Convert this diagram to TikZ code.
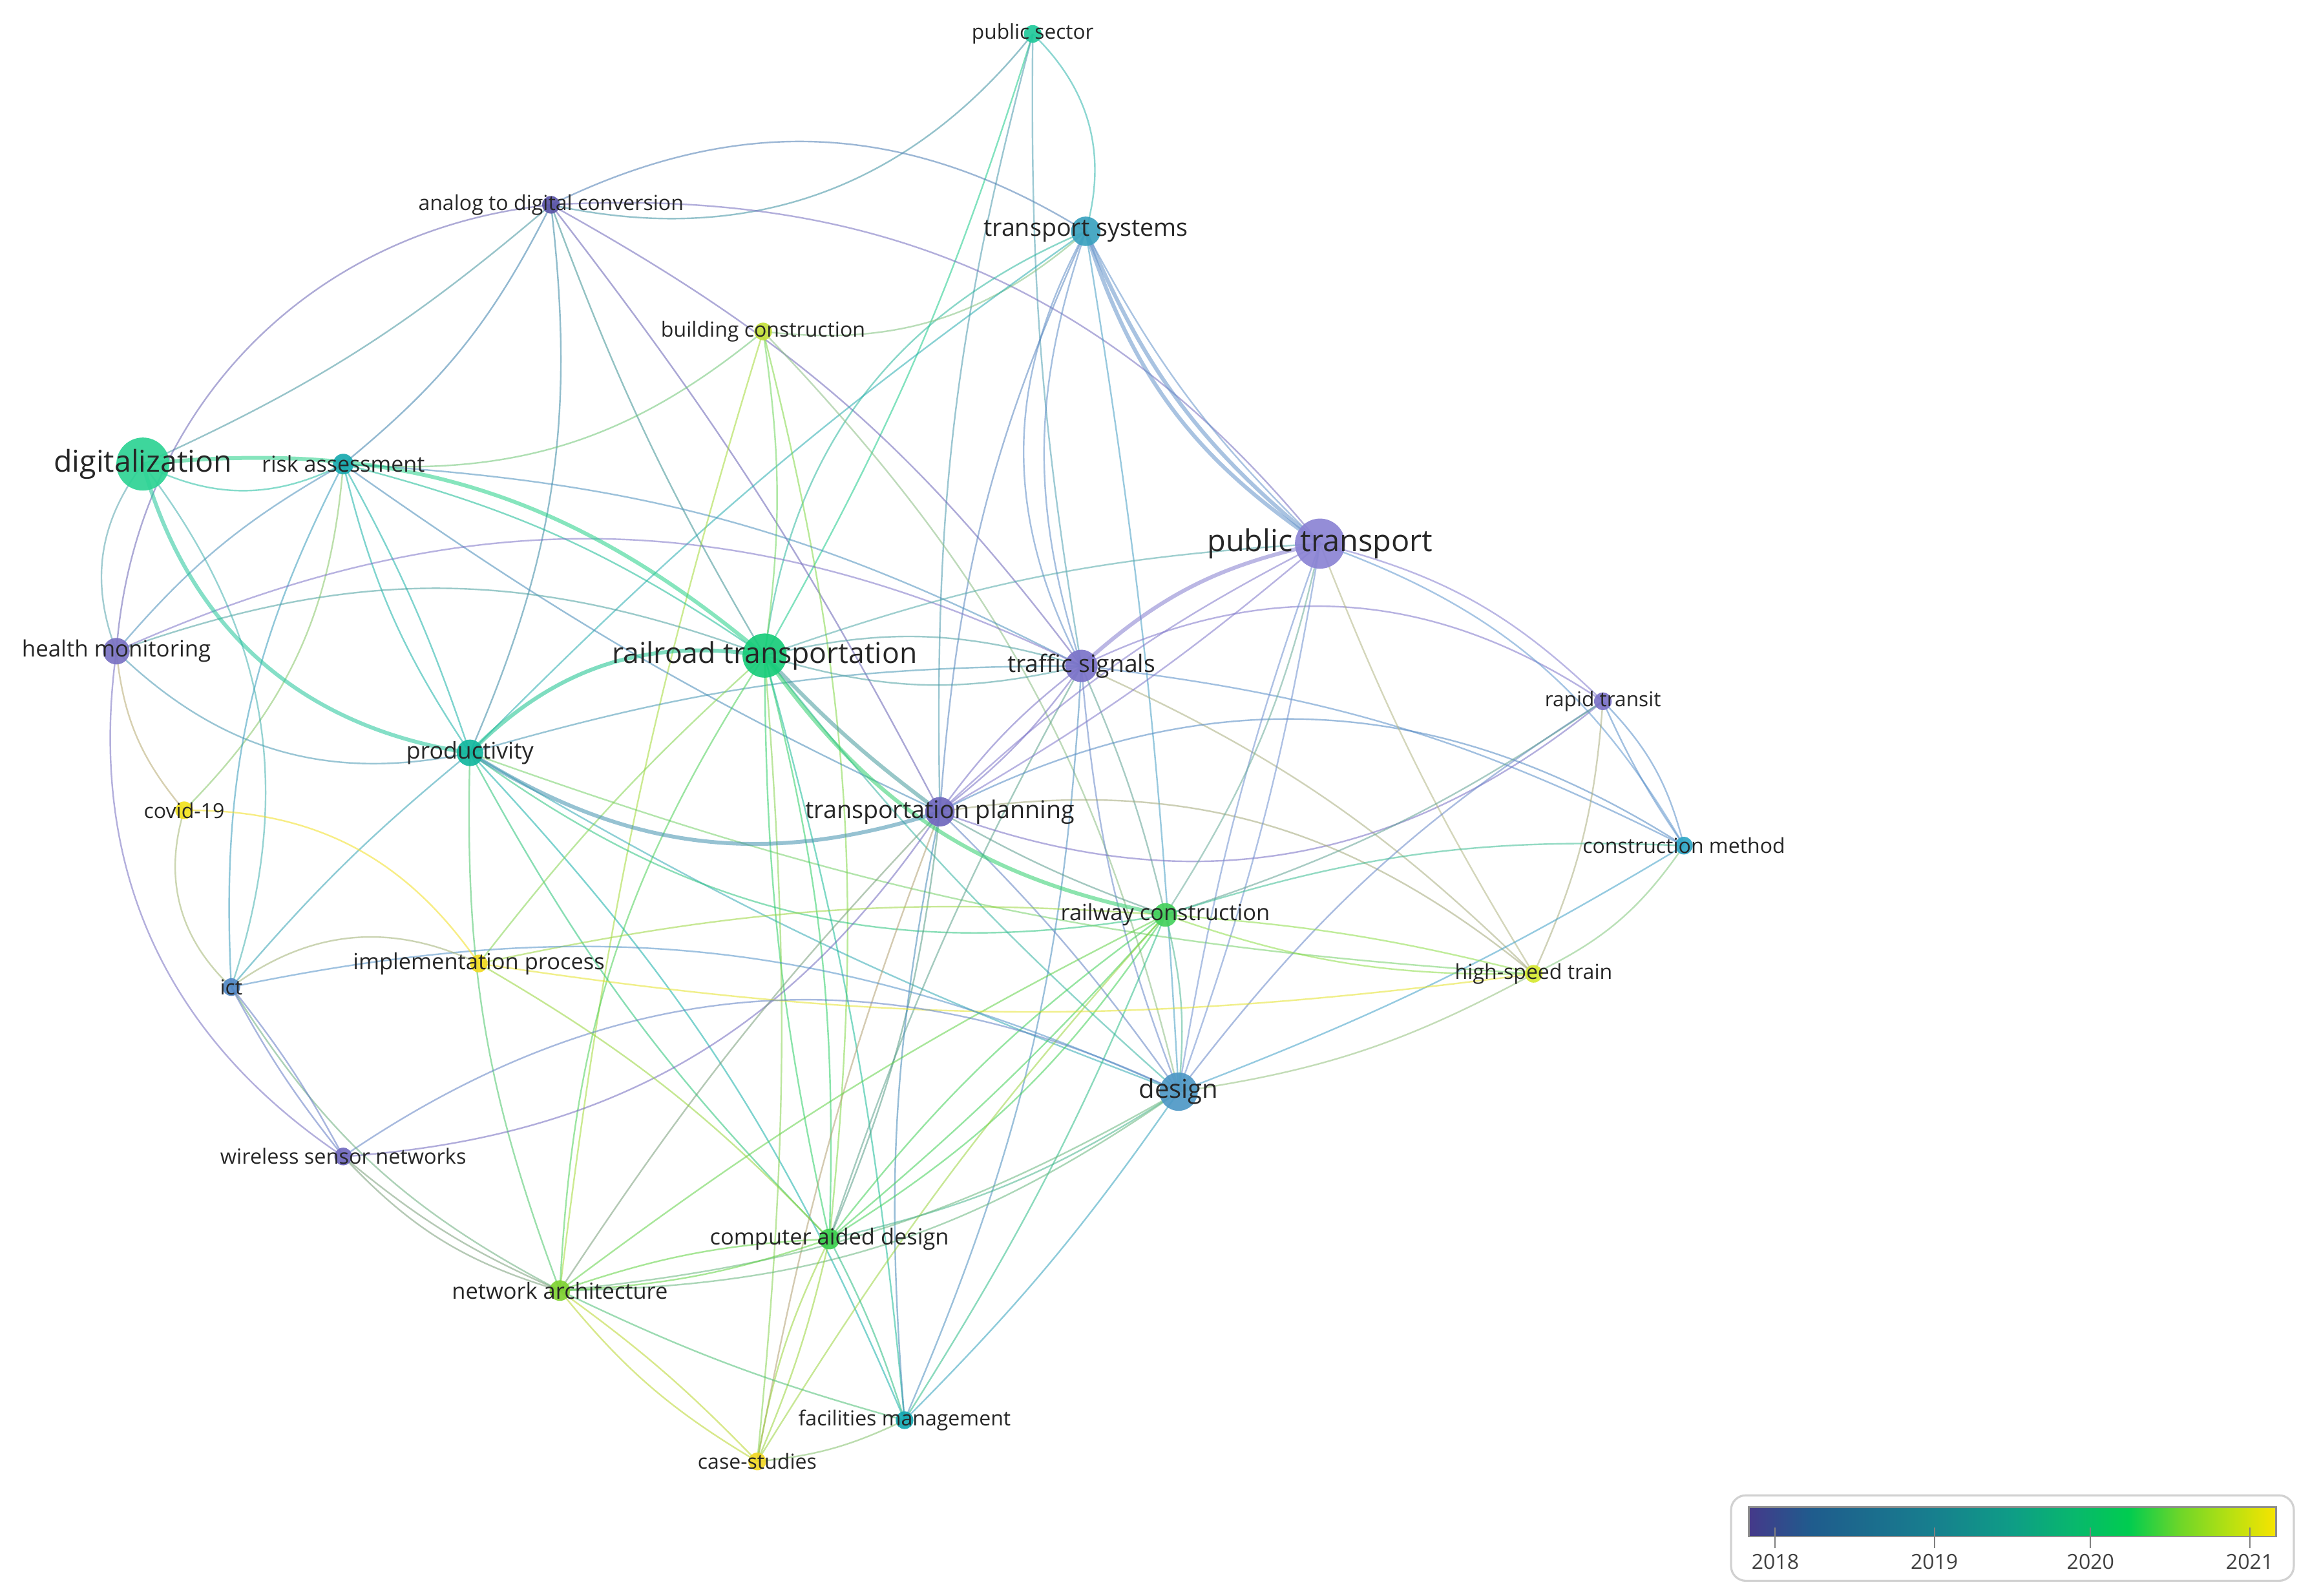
\documentclass[tikz,border=0pt]{standalone}
\usepackage{fontspec}
\setmainfont{Open Sans}
\usepackage{tikz}

% keyword colours (overlay year)
\definecolor{c-psec}{HTML}{20C99A}
\definecolor{c-adc}{HTML}{5B55A8}
\definecolor{c-tsys}{HTML}{3BA2BF}
\definecolor{c-bcon}{HTML}{C4E03C}
\definecolor{c-dig}{HTML}{2ED394}
\definecolor{c-risk}{HTML}{18A9AF}
\definecolor{c-ptr}{HTML}{8B83D4}
\definecolor{c-hmon}{HTML}{7A72C3}
\definecolor{c-rail}{HTML}{18CC7A}
\definecolor{c-tsig}{HTML}{7B73C9}
\definecolor{c-rapid}{HTML}{7C72C8}
\definecolor{c-prod}{HTML}{12B79E}
\definecolor{c-covid}{HTML}{F2E21E}
\definecolor{c-tplan}{HTML}{6F67BD}
\definecolor{c-cmeth}{HTML}{2FA6C6}
\definecolor{c-rcon}{HTML}{44D05C}
\definecolor{c-impl}{HTML}{F0DA22}
\definecolor{c-ict}{HTML}{5289C6}
\definecolor{c-hst}{HTML}{D6E832}
\definecolor{c-design}{HTML}{4E98C6}
\definecolor{c-wsn}{HTML}{7068BE}
\definecolor{c-cad}{HTML}{3CCF4E}
\definecolor{c-netarch}{HTML}{7FD232}
\definecolor{c-fm}{HTML}{14A8B2}
\definecolor{c-cases}{HTML}{F2D824}

\definecolor{y0}{HTML}{45398A}
\definecolor{y1}{HTML}{1F5C8D}
\definecolor{y2}{HTML}{177F8E}
\definecolor{y3}{HTML}{0E9D86}
\definecolor{y4}{HTML}{08B86C}
\definecolor{y5}{HTML}{00CC50}
\definecolor{y6}{HTML}{70D628}
\definecolor{y7}{HTML}{B5E012}
\definecolor{y8}{HTML}{F7E400}
\pgfdeclarehorizontalshading{yearbar}{100bp}{color(0bp)=(y0); color(25bp)=(y0);
  color(31bp)=(y1); color(42.5bp)=(y2); color(50bp)=(y3); color(56bp)=(y4);
  color(61bp)=(y5); color(66bp)=(y6); color(70.5bp)=(y7); color(75bp)=(y8); color(100bp)=(y8)}

\begin{document}
\begin{tikzpicture}[x=0.02cm, y=-0.02cm,
  lnk/.style 2 args={draw={c-#1!50!c-#2}, draw opacity=.55, line width=.6pt},
  thick lnk/.style 2 args={draw={c-#1!50!c-#2}, draw opacity=.55, line width=1.5pt},
  lbl/.style={text=black!85, inner sep=0pt, anchor=center}]
\useasboundingbox (0,0) rectangle (1568,1083);

% keyword positions
\coordinate (psec) at (701,23);
\coordinate (adc) at (374,139);
\coordinate (tsys) at (737,157);
\coordinate (bcon) at (518,225);
\coordinate (dig) at (97,315);
\coordinate (risk) at (233,315);
\coordinate (ptr) at (896,369);
\coordinate (hmon) at (79,442);
\coordinate (rail) at (519,445);
\coordinate (tsig) at (734,452);
\coordinate (rapid) at (1088,476);
\coordinate (prod) at (319,511);
\coordinate (covid) at (125,550);
\coordinate (tplan) at (638,551);
\coordinate (cmeth) at (1143,574);
\coordinate (rcon) at (791,621);
\coordinate (impl) at (325,654);
\coordinate (ict) at (157,670);
\coordinate (hst) at (1041,661);
\coordinate (design) at (800,741);
\coordinate (wsn) at (233,785);
\coordinate (cad) at (563,841);
\coordinate (netarch) at (380,876);
\coordinate (fm) at (614,964);
\coordinate (cases) at (514,992);

% co-occurrence links
\foreach \p/\q/\k in {adc/psec/-32, psec/rail/6, psec/tsig/-5, psec/tsys/31, psec/tplan/-8,
  dig/adc/-8, hmon/adc/40, risk/adc/-12, adc/tsys/29, adc/ptr/27, adc/prod/15, adc/rail/-5,
  adc/tplan/5, adc/tsig/12,
  tsys/rail/-30, bcon/tsys/-24, tsys/tsig/-28, tsys/tsig/-18, tsys/tplan/-10, tsys/design/3,
  prod/tsys/5, tsys/ptr/-9,
  bcon/risk/22, bcon/rail/8, bcon/cad/10, bcon/design/15, bcon/netarch/-5, covid/risk/-20,
  dig/risk/-27, risk/prod/5, risk/prod/-10, risk/rail/10, risk/tsig/12, risk/tplan/-5,
  risk/ict/-15, hmon/risk/10,
  dig/hmon/-29, hmon/prod/-28, hmon/rail/20, hmon/tsig/25, hmon/covid/-17, hmon/wsn/-32,
  prod/ict/-5, prod/cad/-8, prod/netarch/-11, prod/fm/10, prod/design/-5, prod/rcon/-23,
  prod/hst/-8, prod/tsig/8,
  rail/tsig/15, rail/tsig/-15, rail/ptr/8, rail/design/-5, rail/cad/-6, rail/cad/8,
  rail/netarch/-15, rail/impl/-5, rail/fm/5, rail/cases/5,
  tsig/tplan/8, tsig/tplan/-8, tsig/rcon/5, tsig/design/-8, tsig/hst/10, tsig/cmeth/10,
  tsig/rapid/30, tsig/cad/-5, fm/tsig/-10, wsn/tplan/-26,
  ptr/tplan/-8, ptr/tplan/5, tplan/rcon/-5, tplan/design/5, tplan/cad/8, tplan/fm/-8,
  tplan/netarch/-5, tplan/rapid/-30, tplan/cmeth/30, tplan/hst/24, tplan/cases/-5,
  ptr/rapid/15, ptr/cmeth/20, ptr/design/5, ptr/design/-5, ptr/rcon/10, ptr/hst/-5,
  rapid/cmeth/-5, rapid/cmeth/15, rapid/hst/10, rapid/design/-10, rapid/rcon/8,
  cmeth/rcon/-10, cmeth/hst/15, cmeth/design/5,
  rcon/hst/-10, rcon/hst/5, rcon/design/10, rcon/cad/4, rcon/cad/12, rcon/cad/-8,
  rcon/netarch/-5, rcon/fm/5, rcon/cases/-5, rcon/impl/-8,
  hst/design/10, impl/hst/-8,
  design/cad/10, design/netarch/12, design/netarch/17, wsn/design/30, ict/design/18,
  design/fm/5,
  cad/netarch/8, cad/netarch/-8, cad/cases/5, cad/cases/-8, cad/fm/5, impl/cad/8,
  wsn/netarch/-15, wsn/netarch/-8, netarch/cases/-10, netarch/cases/5, netarch/fm/-5,
  ict/netarch/-15, ict/wsn/-5, ict/wsn/5,
  dig/ict/28, covid/ict/-32, ict/impl/31, covid/impl/28, fm/cases/10}
  \draw[lnk={\p}{\q}] (\p) to[bend left=\k] (\q);

% strong links
\foreach \p/\q/\k in {dig/prod/-33, dig/rail/23, rail/tplan/-5, rail/rcon/-22, prod/rail/27,
  tsys/ptr/-19, tsys/ptr/-14, ptr/tsig/-15, prod/tplan/-25}
  \draw[thick lnk={\p}{\q}] (\p) to[bend left=\k] (\q);

% keyword circles
\foreach \n/\r in {dig/18, ptr/17, rail/15, design/13, tsys/10, tsig/11, tplan/10, hmon/9,
  prod/9, risk/7, rcon/8, cad/7, netarch/7, adc/6, psec/6, bcon/6, rapid/6, covid/6,
  impl/6, ict/6, hst/6, wsn/6, fm/6, cases/6, cmeth/6}
  \fill[c-\n, fill opacity=.92] (\n) circle[radius=\r];

% keyword labels
\foreach \n/\fs/\txt in {psec/7.9/public sector, adc/8/analog to digital conversion,
  tsys/9.4/transport systems, bcon/8/building construction, dig/11.6/digitalization,
  risk/8.5/risk assessment, ptr/11.7/public transport, hmon/8.7/health monitoring,
  rail/11.1/railroad transportation, tsig/9.3/traffic signals, rapid/7.9/rapid transit,
  prod/8.9/productivity, covid/8/covid-19, tplan/9.4/transportation planning,
  cmeth/8/construction method, rcon/8.6/railway construction,
  impl/8.6/implementation process, ict/8/ict, hst/8/high-speed train, design/10/design,
  wsn/8.1/wireless sensor networks, cad/8.6/computer aided design,
  netarch/8.6/network architecture, fm/8/facilities management, cases/8/case-studies}
  \node[lbl, font=\fontsize{\fs}{\fs}\selectfont] at (\n) {\txt};

% year legend
\draw[black!18, line width=.8pt, rounded corners=0.2cm] (1175,1015) rectangle (1557,1073);
\shade[shading=yearbar] (1187,1023) rectangle (1545,1043);
\draw[black!45, line width=.6pt] (1187,1023) rectangle (1545,1043);
\foreach \yr/\xx in {2018/1205, 2019/1313, 2020/1419, 2021/1527} {
  \draw[black!50, line width=.5pt] (\xx,1037) -- (\xx,1051);
  \node[text=black!75, font=\fontsize{8}{8}\selectfont, inner sep=0pt] (yr\yr) at (\xx,1060) {\yr};
}
\end{tikzpicture}
\end{document}
